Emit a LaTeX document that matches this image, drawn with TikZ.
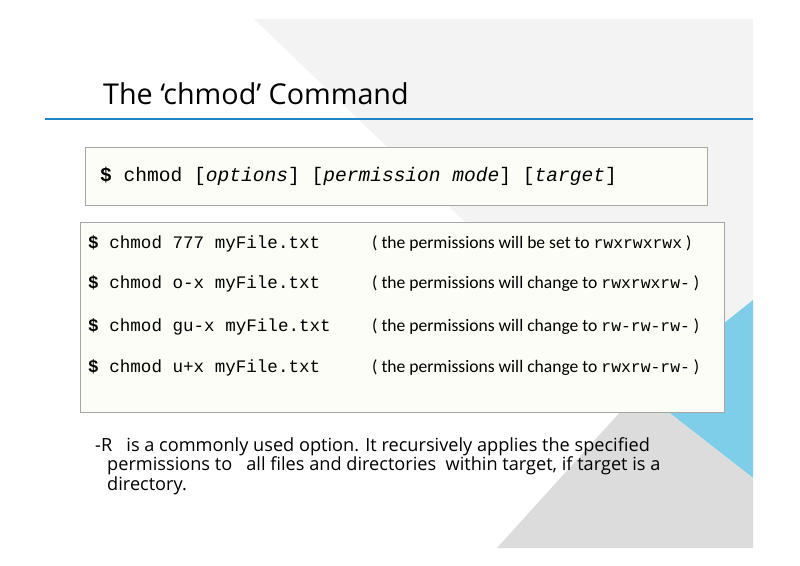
\documentclass[tikz,border=0pt]{standalone}
\usepackage{fontspec}
\setmainfont{Open Sans}
\setmonofont{Liberation Mono}
\newfontfamily\notefont{Carlito}
\definecolor{slidegray}{HTML}{F3F3F3}
\definecolor{midgray}{HTML}{DCDCDC}
\definecolor{skyblue}{HTML}{7ECEEA}
\definecolor{rulecol}{HTML}{1F86C6}
\definecolor{boxfill}{HTML}{FDFDF7}
\tikzset{
  cmdbox/.style={draw=gray!70, fill=boxfill, line width=0.8pt},
  cmd/.style={anchor=base west, inner sep=0pt, font=\ttfamily\fontsize{15}{15}\selectfont},
  note/.style={anchor=base west, inner sep=0pt, font=\notefont\fontsize{15}{15}\selectfont},
  body/.style={anchor=base west, inner sep=0pt, font=\fontsize{15.5}{15.5}\selectfont},
}
\newcommand{\dol}{\textbf{\$}}
\newcommand{\perm}[1]{{\ttfamily\fontsize{14}{14}\selectfont #1}}
\begin{document}
\begin{tikzpicture}[x=0.03cm, y=-0.03cm]
        \useasboundingbox (0,0) rectangle (800,566);
        \fill[white] (0,0) rectangle (800,566);

        \fill[slidegray] (254,19) -- (753,19) -- (753,300) -- (640,390) -- cycle;
        \fill[skyblue] (753,300) -- (640,390) -- (753,478) -- cycle;
        \fill[midgray] (497,548) -- (640,390) -- (753,478) -- (753,548) -- cycle;

        \node[anchor=base west, inner sep=0pt, font=\fontsize{24.5}{24.5}\selectfont] (title) at (103,105) {The ‘chmod’ Command};
        \draw[rulecol, line width=2.5pt] (45,119) -- (753,119);

        \draw[cmdbox] (85,147) rectangle (707,205);
        \node[cmd, font=\ttfamily\fontsize{16.7}{16.7}\selectfont] (syntax) at (100,182) {\dol{} chmod [\textit{options}] [\textit{permission mode}] [\textit{target}]};

        \draw[cmdbox] (80,222) rectangle (724,412);
        \node[cmd] (c1) at (88,249) {\dol{} chmod 777 myFile.txt};
        \node[cmd] (c2) at (88,289) {\dol{} chmod o-x myFile.txt};
        \node[cmd] (c3) at (88,331) {\dol{} chmod gu-x myFile.txt};
        \node[cmd] (c4) at (88,373) {\dol{} chmod u+x myFile.txt};
        \node[note] (n1) at (372,249) {( the permissions will be set to \perm{rwxrwxrwx} )};
        \node[note] (n2) at (372,289) {( the permissions will change to \perm{rwxrwxrw-} )};
        \node[note] (n3) at (372,331) {( the permissions will change to \perm{rw-rw-rw-} )};
        \node[note] (n4) at (372,373) {( the permissions will change to \perm{rwxrw-rw-} )};

        \node[body] (opt1) at (95,451) {-R\ \ \ is a commonly used option. It recursively applies the specified};
        \node[body] (opt2) at (107,470) {permissions to \ \ all files and directories \ within target, if target is a};
        \node[body] (opt3) at (107,490) {directory.};
\end{tikzpicture}
\end{document}
